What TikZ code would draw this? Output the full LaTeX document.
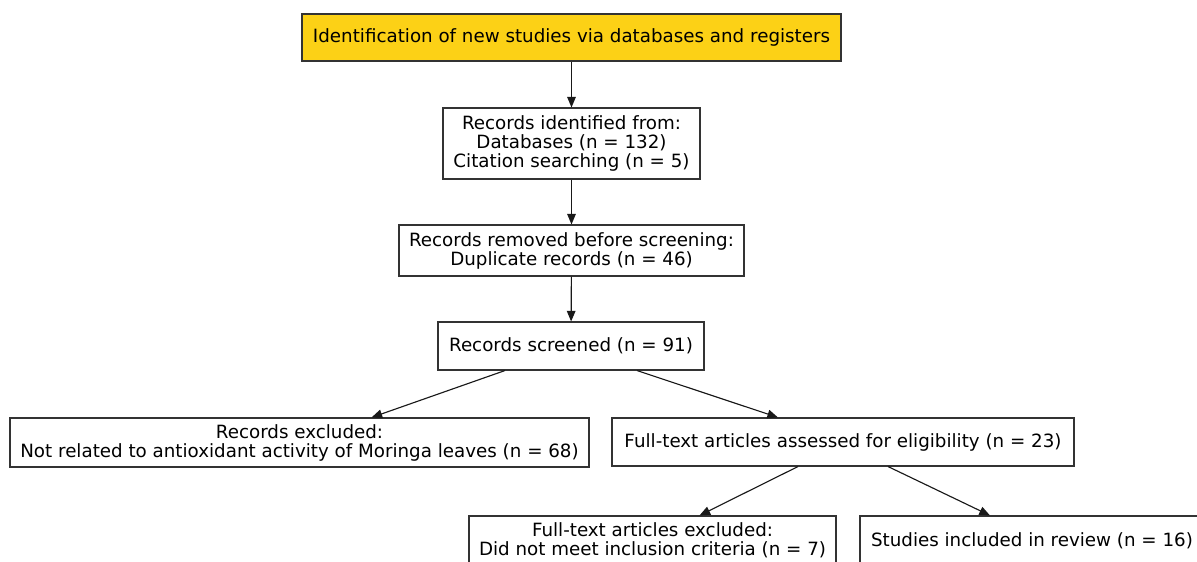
\documentclass[tikz,border=0pt]{standalone}
\usepackage{fontspec}
\setmainfont{DejaVu Sans}
\usetikzlibrary{arrows.meta}
\definecolor{idgold}{RGB}{252,209,22}
\tikzset{
  box/.style={draw=black!80,line width=0.8pt,fill=white,align=center,inner sep=2pt,font=\fontsize{13.7}{14.3}\selectfont},
  px/.style 2 args={minimum width=#1*0.75pt,minimum height=#2*0.75pt},
  flow/.style={draw=black!90,line width=0.85pt,-{Triangle[length=8pt,width=6.5pt]}}
}
\begin{document}
\begin{tikzpicture}[x=0.75pt,y=-0.75pt]
\useasboundingbox (0,0) rectangle (1197,561);
\clip (0,0) rectangle (1197,561);
\fill[white] (0,0) rectangle (1197,561);
\node[box,fill=idgold,px={539}{47}] (ident) at (571.5,37.5) {Identification of new studies via databases and registers};
\node[box,px={257}{71}] (found) at (571.5,143.5) {Records identified from:\\Databases (n = 132)\\Citation searching (n = 5)};
\node[box,px={345}{51}] (dupl) at (571.5,250.5) {Records removed before screening:\\Duplicate records (n = 46)};
\node[box,px={266}{48}] (screen) at (571,346) {Records screened (n = 91)};
\node[box,px={579}{49}] (recex) at (299.5,442.5) {Records excluded:\\Not related to antioxidant activity of Moringa leaves (n = 68)};
\node[box,px={462}{48}] (full) at (843,442) {Full-text articles assessed for eligibility (n = 23)};
\node[box,px={367}{49}] (fullex) at (652.5,540.5) {Full-text articles excluded:\\Did not meet inclusion criteria (n = 7)};
\node[box,px={344}{49}] (incl) at (1032,540.5) {Studies included in review (n = 16)};
% edges
\draw[flow] (ident) -- (found);
\draw[flow] (found) -- (dupl);
\draw[flow] (dupl) -- (screen);
\draw[flow] ([xshift=-66*0.75pt]screen.south) -- ([xshift=72*0.75pt]recex.north);
\draw[flow] ([xshift=66*0.75pt]screen.south) -- ([xshift=-65*0.75pt]full.north);
\draw[flow] ([xshift=-45*0.75pt]full.south) -- ([xshift=47*0.75pt]fullex.north);
\draw[flow] ([xshift=45*0.75pt]full.south) -- ([xshift=-42*0.75pt]incl.north);
\end{tikzpicture}
\end{document}
